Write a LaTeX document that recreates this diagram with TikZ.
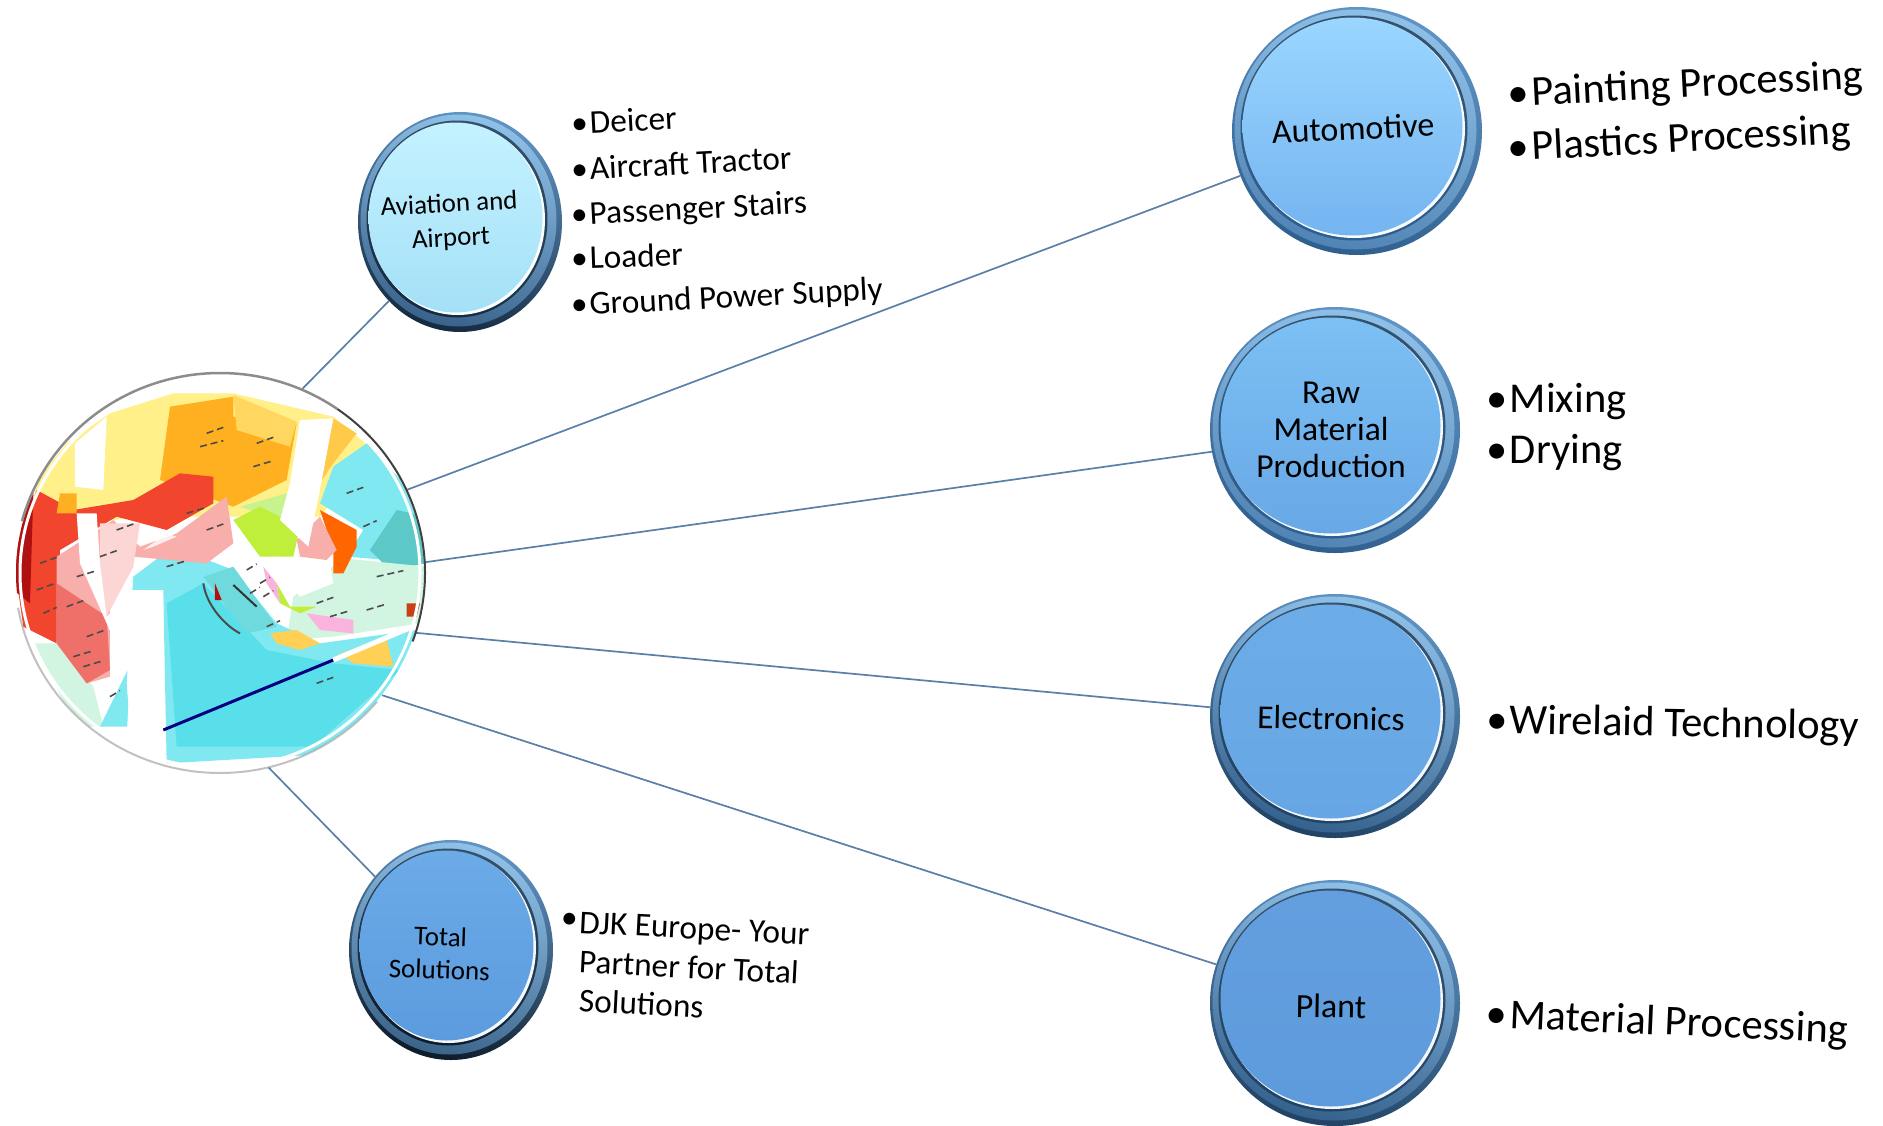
\documentclass[tikz,border=0pt]{standalone}
\usepackage{fontspec}
\setmainfont{Carlito}
\usetikzlibrary{shapes.geometric}
\definecolor{lineblue}{HTML}{5B80A8}
\definecolor{ringdark}{HTML}{2F5F8F}
\definecolor{ringmid}{HTML}{5F94C4}
\definecolor{ringlight}{HTML}{8FC0E8}
\definecolor{aviaT}{HTML}{C4F2FF}
\definecolor{aviaB}{HTML}{A4E0F8}
\definecolor{totalT}{HTML}{6CABE8}
\definecolor{totalB}{HTML}{5C9BDD}
\definecolor{autoT}{HTML}{9AD6FF}
\definecolor{autoB}{HTML}{74B4F0}
\definecolor{rawT}{HTML}{7CC0F4}
\definecolor{rawB}{HTML}{68A8E6}
\definecolor{elecT}{HTML}{6CADE8}
\definecolor{elecB}{HTML}{66A6E4}
\definecolor{plantT}{HTML}{639FDF}
\definecolor{plantB}{HTML}{5E9BDC}
\definecolor{seaA}{HTML}{7FE8F0}
\definecolor{seaB}{HTML}{58DFEA}
\definecolor{seaC}{HTML}{5CC8C8}
\definecolor{paleG}{HTML}{D2F5E2}
\definecolor{paleY}{HTML}{FFF08A}
\definecolor{amber}{HTML}{FFB020}
\definecolor{redL}{HTML}{F2452E}
\definecolor{redD}{HTML}{B01010}
\definecolor{pinkL}{HTML}{F8AEAA}
\definecolor{pinkD}{HTML}{EE7068}
\definecolor{lime}{HTML}{BFEF3A}
\tikzset{
  conn/.style={draw=lineblue,line width=1.7pt},
  lab/.style={align=center,text=black,inner sep=0pt},
  item/.style={anchor=west,text=black,inner sep=0pt},
}
% name, x, y, width, height, top colour, bottom colour, colour of the dark side
\newcommand{\bubble}[8]{%
  \node[ellipse,minimum width=#4pt,minimum height=#5pt,inner sep=0pt,outer sep=0pt,
        left color=ringmid,right color=#8,shading angle=-15] (#1) at (#2,#3) {};
  \shade[left color=ringlight,right color=ringmid!70!#8,shading angle=-15] (#2-1.5,#3-1.5) ellipse [x radius=#4/2-4,y radius=#5/2-4];
  \shade[left color=black!45!ringmid,right color=#8,shading angle=-15] (#2-3,#3-3) ellipse [x radius=#4/2-11.5,y radius=#5/2-11.5];
  \fill[white!92!#6] (#2-2.5,#3-2.5) ellipse [x radius=#4/2-14.5,y radius=#5/2-14.5];
  \shade[top color=#6,bottom color=#7] (#2-4.5,#3-4.5) ellipse [x radius=#4/2-15,y radius=#5/2-15];
}
\begin{document}
\begin{tikzpicture}[x=1pt,y=-1pt]
\useasboundingbox[fill=white] (0,0) rectangle (1883,1125);

\node[ellipse,minimum width=410pt,minimum height=400pt,inner sep=0pt,outer sep=0pt] (globe) at (220,573) {};
\bubble{avia}{460}{222}{204}{220}{aviaT}{aviaB}{black!55!ringdark}
\bubble{total}{451}{950}{204}{220}{totalT}{totalB}{black!70!ringdark}
\bubble{auto}{1357}{131}{250}{248}{autoT}{autoB}{ringdark}
\bubble{raw}{1335}{430}{250}{246}{rawT}{rawB}{ringdark}
\bubble{elec}{1335}{716}{250}{244}{elecT}{elecB}{black!30!ringdark}
\bubble{plant}{1335}{1003}{250}{246}{plantT}{plantB}{black!30!ringdark}

\draw[conn] (globe.66) -- (avia.228);
\draw[conn] (globe.24) -- (auto.201);
\draw[conn] (globe.3) -- (raw.190);
\draw[conn] (globe.-17) -- (elec.176);
\draw[conn] (globe.-37) -- (plant.162);
\draw[conn] (globe.-76) -- (total.136);

% globe painting (coordinates of a 3x crop)
\begin{scope}[x=0.33333pt,y=-0.33333pt,shift={(0pt,-350pt)}]
  \begin{scope}
    \clip (660,670) ellipse [x radius=612,y radius=598];
    \fill[white] (0,0) rectangle (1350,1350);
    % pale land north
    \fill[paleY] (60,560) -- (120,380) -- (200,280) -- (330,190) -- (520,130) -- (700,130) -- (1000,200) -- (1120,300) -- (960,500) -- (700,500) -- (400,500) -- cycle;
    \fill[amber!60!paleY] (1000,205) -- (1070,250) -- (1000,340) -- (960,400) -- cycle;
    % seas
    \fill[seaA] (1000,350) -- (1100,280) -- (1230,420) -- (1290,640) -- (1040,620) -- (1090,540) -- (960,460) -- cycle;
    \fill[seaC] (1110,600) -- (1190,480) -- (1280,500) -- (1280,640) -- (1170,660) -- cycle;
    \fill[paleG] (1030,625) -- (1280,650) -- (1260,820) -- (1000,860) -- (860,870) -- (880,740) -- cycle;
    \fill[paleG] (100,880) -- (170,880) -- (280,1010) -- (310,1130) -- (230,1130) -- cycle;
    \fill[seaA] (300,1130) -- (390,1130) -- (380,1000) -- (400,680) -- (520,590) -- (700,660) -- (830,820) -- (960,880) -- (1250,840) -- (1250,1000) -- (1020,1210) -- (500,1240) -- (490,740) -- cycle;
    \fill[seaB] (530,1190) -- (500,760) -- (610,700) -- (800,900) -- (1000,940) -- (1200,960) -- (940,1190) -- cycle;
    \fill[seaC!45!seaA] (610,680) -- (700,650) -- (830,830) -- (740,850) -- cycle;
    % north orange
    \fill[amber] (510,170) -- (700,140) -- (700,200) -- (890,220) -- (860,390) -- (700,470) -- (480,390) -- cycle;
    \fill[paleY!60!amber] (700,135) -- (890,215) -- (870,290) -- (710,240) -- cycle;
    % red band
    \fill[redL] (40,620) -- (110,420) -- (220,480) -- (400,450) -- (540,370) -- (640,380) -- (640,460) -- (500,540) -- (350,500) -- (180,600) -- (170,880) -- (70,830) -- cycle;
    \fill[redD] (40,560) -- (100,430) -- (90,760) -- (40,720) -- cycle;
    % pink India
    \fill[pinkL] (170,620) -- (340,510) -- (420,590) -- (530,550) -- (680,440) -- (700,580) -- (620,640) -- (400,620) -- (330,780) -- (330,980) -- (260,1000) -- (170,880) -- cycle;
    \fill[pinkL!50!white] (300,520) -- (420,520) -- (400,650) -- (320,800) -- (300,700) -- cycle;
    \fill[pinkD] (170,700) -- (320,800) -- (330,960) -- (260,1000) -- (170,880) -- cycle;
    % green
    \fill[paleG!50!lime] (720,470) -- (860,430) -- (860,520) -- (780,490) -- cycle;
    \fill[lime] (700,510) -- (780,470) -- (900,530) -- (880,620) -- (820,620) -- (780,620) -- cycle;
    \fill[lime] (830,700) -- (870,770) -- (950,770) -- (900,790) -- (840,760) -- cycle;
    % vietnam
    \fill[orange!80!red] (960,480) -- (1070,540) -- (1070,590) -- (1030,670) -- (1000,670) -- (1000,600) -- cycle;
    \fill[pinkL] (890,570) -- (960,500) -- (1010,600) -- (980,630) -- (900,620) -- cycle;
    % Malay pink
    \fill[magenta!30!white] (920,790) -- (1060,810) -- (1060,850) -- (960,840) -- cycle;
    \fill[magenta!30!white] (790,650) -- (830,700) -- (840,760) -- (800,700) -- cycle;
    % islands
    \fill[paleY!50!amber] (810,850) -- (890,840) -- (960,880) -- (900,900) -- (830,880) -- cycle;
    \fill[paleY!50!amber] (1020,910) -- (1160,870) -- (1180,950) -- (1060,940) -- cycle;
    \fill[amber] (180,430) -- (230,430) -- (230,490) -- (170,490) -- cycle;
    \fill[redD!70!amber] (1220,760) -- (1260,760) -- (1250,800) -- (1220,800) -- cycle;
    % white highlights
    \fill[white] (320,200) -- (225,280) -- (225,410) -- (310,420) -- cycle;
    \fill[white] (900,210) -- (1000,205) -- (960,420) -- (925,590) -- (840,510) -- (870,400) -- cycle;
    \fill[white] (230,490) -- (290,490) -- (300,640) -- (320,800) -- (400,720) -- (490,720) -- (490,1250) -- (380,1160) -- (390,980) -- (320,820) -- (240,640) -- cycle;
    \fill[white] (830,620) -- (990,640) -- (1000,700) -- (900,740) -- (850,680) -- cycle;
    \fill[white,opacity=.8] (500,550) -- (530,560) -- (460,590) -- (430,600) -- cycle;
    % tiny map marks
    \foreach \mx/\my/\ml in {300/620/50,230/680/60,200/770/50,260/860/50,220/920/60,560/490/60,620/540/50,600/290/70,620/250/50,770/280/50,760/350/60,500/650/60,1090/530/40,1130/680/80,1100/780/60,950/760/50,780/700/30,790/740/30,990/800/60,120/640/50,110/720/50,130/790/40,350/540/50,250/950/60,1040/430/50,740/660/30,750/730/30,800/830/40,950/1000/50,330/1040/30}
      \draw[black!70,line width=1.6pt,dash pattern=on 7pt off 4pt] (\mx,\my) -- ++(\ml,-18);
    \draw[black!70,line width=2pt] (610,700) .. controls (620,770) and (680,830) .. (720,850);
    \draw[black!80,line width=2pt] (700,705) -- (770,770);
    \fill[redD] (645,700) -- (665,750) -- (645,750) -- cycle;
    % equator
    \draw[blue!50!black,line width=3pt] (490,1140) -- (1000,930);
    \draw[white,line width=5pt] (1000,930) -- (1250,825);
  \end{scope}
\end{scope}

% glass rim of the globe
\draw[white,line width=3pt] (220,573) ellipse [x radius=200,y radius=195];
\draw[black!40,line width=2pt,opacity=.6] ({220+205*cos(40)},{573+200*sin(40)}) arc [start angle=40,end angle=170,x radius=205,y radius=200];
\draw[black!45,line width=2.5pt] ({220+205*cos(195)},{573+200*sin(195)}) arc [start angle=195,end angle=305,x radius=205,y radius=200];
\draw[black!75,line width=2pt] ({220+205*cos(305)},{573+200*sin(305)}) arc [start angle=305,end angle=380,x radius=205,y radius=200];

% bubble labels
\node[lab,font=\fontsize{27}{34}\selectfont,rotate=3] (lavia) at (450,222) {Aviation and\\Airport};
\node[lab,font=\fontsize{34}{40}\selectfont,rotate=2.5] (lauto) at (1353,128) {Automotive};
\node[lab,font=\fontsize{33.5}{37}\selectfont] (lraw) at (1331,430) {Raw\\Material\\Production};
\node[lab,font=\fontsize{33.5}{37}\selectfont,rotate=-1] (lelec) at (1331,718) {Electronics};
\node[lab,font=\fontsize{34}{37}\selectfont,rotate=-1] (lplant) at (1331,1006) {Plant};
\node[lab,font=\fontsize{27}{33}\selectfont,rotate=-2] (ltotal) at (440,953) {Total\\Solutions};

% lists
\begin{scope}[every node/.append style={item,font=\fontsize{33.3}{38}\selectfont}]
  \node[rotate=3] (i1) at (571,123) {\textbullet\kern.06em Deicer};
  \node[rotate=3] (i2) at (571,169) {\textbullet\kern.06em Aircraft Tractor};
  \node[rotate=3] (i3) at (571,217) {\textbullet\kern.06em Passenger Stairs};
  \node[rotate=2] (i4) at (571,258) {\textbullet\kern.06em Loader};
  \node[rotate=3] (i5) at (571,307) {\textbullet\kern.06em Ground Power Supply};
  \node (dot) at (561,921) {\textbullet};
  \node[rotate=-3] (djk1) at (579,925) {DJK Europe- Your};
  \node[rotate=-3] (djk2) at (579,961) {Partner for Total};
  \node[rotate=-3] (djk3) at (579,1000) {Solutions};
\end{scope}
\begin{scope}[every node/.append style={item,font=\fontsize{42.5}{46}\selectfont}]
  \node[rotate=3] (p1) at (1508,96) {\textbullet\kern.06em Painting Processing};
  \node[rotate=3] (p2) at (1508,150) {\textbullet\kern.06em Plastics Processing};
  \node (m1) at (1486,402) {\textbullet\kern.06em Mixing};
  \node (m2) at (1486,453) {\textbullet\kern.06em Drying};
  \node[rotate=-1] (w1) at (1486,722) {\textbullet\kern.06em Wirelaid Technology};
  \node[rotate=-2.5] (mp) at (1486,1016) {\textbullet\kern.06em Material Processing};
\end{scope}
\end{tikzpicture}
\end{document}
